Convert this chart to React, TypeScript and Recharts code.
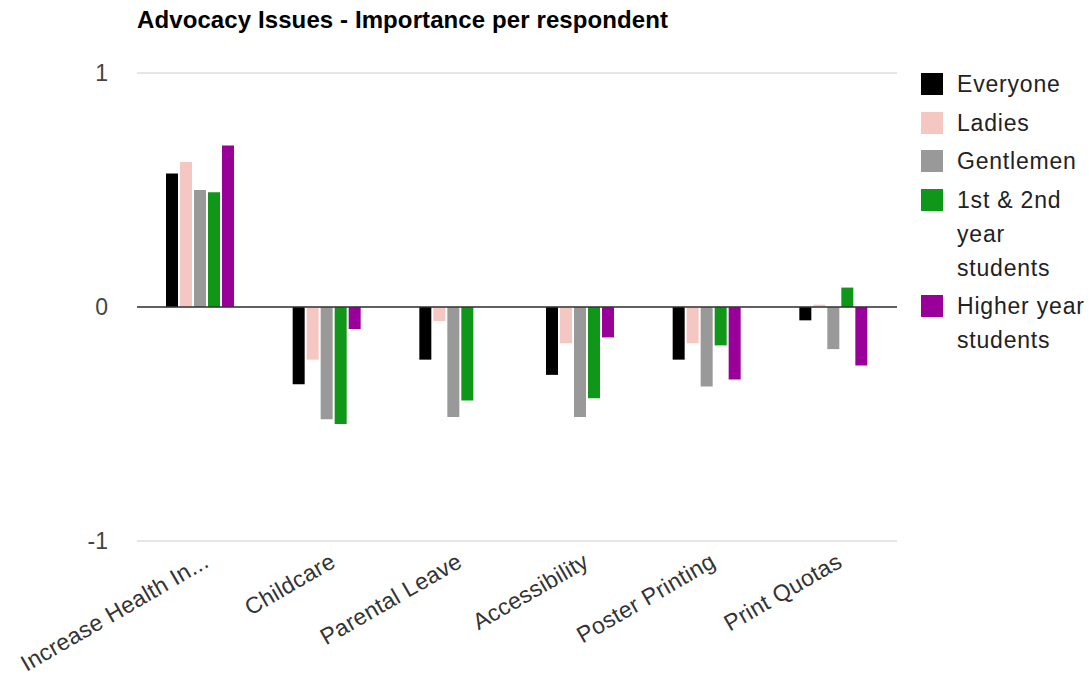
import React from "react";
import { BarChart, Bar, XAxis, YAxis, CartesianGrid, ReferenceLine } from "recharts";

const issues = ["Increase Health In...", "Childcare", "Parental Leave", "Accessibility", "Poster Printing", "Print Quotas"];
const everyone = [0.57, -0.33, -0.225, -0.29, -0.225, -0.057];
const ladies = [0.62, -0.225, -0.06, -0.155, -0.155, 0.01];
const gentlemen = [0.5, -0.48, -0.47, -0.47, -0.34, -0.18];
const firstSecond = [0.49, -0.5, -0.4, -0.39, -0.164, 0.083];
const higherYear = [0.69, -0.094, 0, -0.13, -0.31, -0.25];
const yTicks = [-1, 0, 1];

const series = [
  { key: "everyone", name: "Everyone", color: "#000000", lines: ["Everyone"] },
  { key: "ladies", name: "Ladies", color: "#f4c7c3", lines: ["Ladies"] },
  { key: "gentlemen", name: "Gentlemen", color: "#999999", lines: ["Gentlemen"] },
  { key: "firstSecond", name: "1st & 2nd year students", color: "#109618", lines: ["1st & 2nd", "year", "students"] },
  { key: "higherYear", name: "Higher year students", color: "#990099", lines: ["Higher year", "students"] },
];

const data = issues.map((issue, i) => ({
  issue,
  everyone: everyone[i],
  ladies: ladies[i],
  gentlemen: gentlemen[i],
  firstSecond: firstSecond[i],
  higherYear: higherYear[i],
}));

const font = "'Liberation Sans', Arial, sans-serif";

const XTick = ({ x, y, payload }: any) => (
  <g transform={`translate(${x + 10},${y + 23})`}>
    <text textAnchor="end" transform="rotate(-30)" fontSize={23} fill="#333" fontFamily={font} letterSpacing={0.3}>
      {payload.value}
    </text>
  </g>
);

const LegendBox = () => (
  <div style={{ position: "absolute", left: 921, top: 73, fontFamily: font, fontSize: 23, color: "#222", letterSpacing: 0.8 }}>
    {series.map((s) => (
      <div key={s.key} style={{ display: "flex", alignItems: "flex-start", marginBottom: 10.5 }}>
        <div style={{ width: 22, height: 22, background: s.color, marginRight: 14, flexShrink: 0 }} />
        <div style={{ lineHeight: "34px", marginTop: -6, whiteSpace: "nowrap" }}>
          {s.lines.map((l) => (
            <div key={l}>{l}</div>
          ))}
        </div>
      </div>
    ))}
  </div>
);

export default function App() {
  return (
    <div style={{ position: "absolute", left: 0, top: 0, width: 1089, height: 677, background: "#fff" }}>
      <div
        style={{
          position: "absolute",
          left: 137,
          top: 6,
          fontFamily: font,
          fontWeight: "bold",
          fontSize: 24,
          color: "#000",
          letterSpacing: 0.1,
          whiteSpace: "nowrap",
        }}
      >
        Advocacy Issues - Importance per respondent
      </div>
      <BarChart
        width={1089}
        height={677}
        data={data}
        margin={{ top: 73, right: 192, left: 0, bottom: 0 }}
        barCategoryGap="23%"
        barGap={2}
      >
        <CartesianGrid vertical={false} stroke="#cccccc" />
        <XAxis
          dataKey="issue"
          height={136}
          axisLine={false}
          tickLine={false}
          tickSize={0}
          interval={0}
          tick={<XTick />}
        />
        <YAxis
          width={137}
          domain={[-1, 1]}
          ticks={yTicks}
          axisLine={false}
          tickLine={false}
          tickSize={0}
          tickMargin={29}
          tick={{ fill: "#444", fontSize: 23, fontFamily: font }}
        />
        <ReferenceLine y={0} stroke="#333" strokeWidth={1.5} />
        {series.map((s) => (
          <Bar key={s.key} dataKey={s.key} name={s.name} fill={s.color} barSize={12} isAnimationActive={false} />
        ))}
      </BarChart>
      <LegendBox />
    </div>
  );
}
